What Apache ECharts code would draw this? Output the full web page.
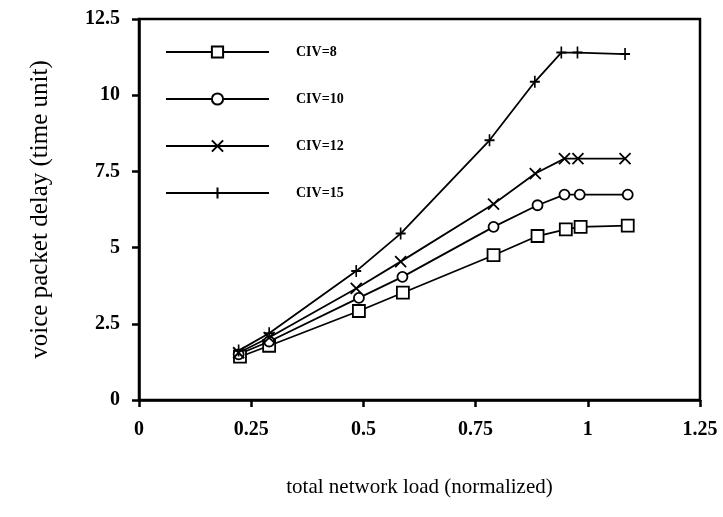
<!DOCTYPE html>
<html>
<head>
<meta charset="utf-8">
<script src="https://cdn.jsdelivr.net/npm/echarts@6/dist/echarts.min.js"></script>
<style>html,body{margin:0;padding:0;background:#fff;}#c{width:723px;height:517px;}</style>
</head>
<body>
<div id="c"></div>
<script>
var seriesNames = ['CIV=8', 'CIV=10', 'CIV=12', 'CIV=15'];
var loadCIV8  = [0.225, 0.29, 0.49, 0.588, 0.79, 0.888, 0.951, 0.984, 1.089];
var delayCIV8 = [1.42, 1.78, 2.92, 3.52, 4.75, 5.38, 5.60, 5.68, 5.72];
var loadCIV10  = [0.222, 0.29, 0.49, 0.587, 0.79, 0.888, 0.948, 0.982, 1.089];
var delayCIV10 = [1.50, 1.92, 3.35, 4.04, 5.68, 6.39, 6.74, 6.74, 6.74];
var loadCIV12  = [0.222, 0.29, 0.484, 0.583, 0.79, 0.883, 0.948, 0.978, 1.083];
var delayCIV12 = [1.55, 2.05, 3.66, 4.54, 6.43, 7.43, 7.92, 7.92, 7.92];
var loadCIV15  = [0.222, 0.29, 0.484, 0.583, 0.781, 0.882, 0.941, 0.977, 1.083];
var delayCIV15 = [1.62, 2.19, 4.23, 5.46, 8.52, 10.44, 11.40, 11.40, 11.35];
var xTicks = {min: 0, max: 1.25, interval: 0.25};
var yTicks = {min: 0, max: 12.5, interval: 2.5};

function pairs(xs, ys) { return xs.map(function (x, i) { return [x, ys[i]]; }); }

var symbols = [
  {symbol: 'rect', size: 12},
  {symbol: 'circle', size: 10},
  {symbol: 'path://M0,0L10,10M10,0L0,10', size: 11},
  {symbol: 'path://M5,0L5,10M0,5L10,5', size: [10, 12]}
];
var dataSets = [pairs(loadCIV8, delayCIV8), pairs(loadCIV10, delayCIV10), pairs(loadCIV12, delayCIV12), pairs(loadCIV15, delayCIV15)];

var chart = echarts.init(document.getElementById('c'), null, {renderer: 'canvas'});
var font = 'Liberation Serif';
chart.setOption({
  animation: false,
  backgroundColor: '#fff',
  grid: {left: 139, right: 23, top: 19, bottom: 117, show: true, borderColor: '#000', borderWidth: 2.5, backgroundColor: 'transparent'},
  legend: {
    orient: 'vertical', left: 160, top: 40, padding: [5, 5, 5, 5],
    itemWidth: 103, itemHeight: 14, itemGap: 33,
    data: seriesNames,
    textStyle: {fontFamily: font, fontWeight: 'bold', fontSize: 14, color: '#000', padding: [0, 0, 0, 22]}
  },
  xAxis: {
    type: 'value', min: xTicks.min, max: xTicks.max, interval: xTicks.interval,
    name: 'total network load (normalized)', nameLocation: 'middle', nameGap: 77,
    nameTextStyle: {fontFamily: font, fontSize: 21, color: '#000'},
    axisLine: {lineStyle: {color: '#000', width: 2.5}},
    axisTick: {show: true, inside: false, length: 7, lineStyle: {color: '#000', width: 2.5}},
    axisLabel: {fontFamily: font, fontWeight: 'bold', fontSize: 20, color: '#000', margin: 20},
    splitLine: {show: false}
  },
  yAxis: {
    type: 'value', min: yTicks.min, max: yTicks.max, interval: yTicks.interval,
    name: 'voice packet delay (time unit)', nameLocation: 'middle', nameGap: 86,
    nameTextStyle: {fontFamily: font, fontSize: 25, color: '#000'},
    axisLine: {lineStyle: {color: '#000', width: 2.5}},
    axisTick: {show: true, inside: false, length: 7, lineStyle: {color: '#000', width: 2.5}},
    axisLabel: {fontFamily: font, fontWeight: 'bold', fontSize: 20, color: '#000', margin: 19},
    splitLine: {show: false}
  },
  series: seriesNames.map(function (n, i) {
    return {
      name: n, type: 'line', data: dataSets[i],
      symbol: symbols[i].symbol, symbolSize: symbols[i].size,
      showAllSymbol: true,
      lineStyle: {color: '#000', width: 1.8},
      itemStyle: {color: '#fff', borderColor: '#000', borderWidth: 1.8},
      emphasis: {disabled: true}
    };
  })
});
</script>
</body>
</html>
